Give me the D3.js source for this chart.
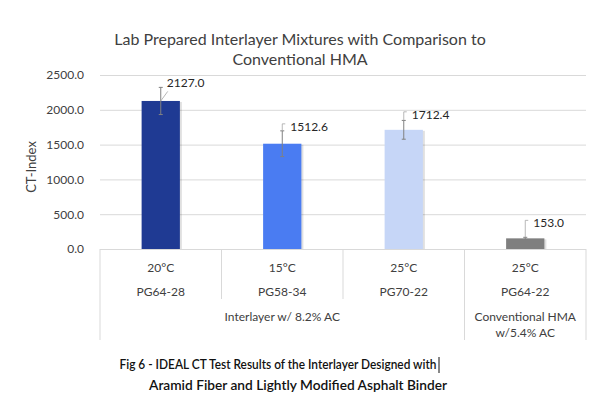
<!DOCTYPE html>
<html>
<head>
    <meta charset="utf-8">
    <title>IDEAL CT interlayer</title>
    <script src="https://d3js.org/d3.v7.min.js"></script>
    <style>
        body { margin: 0; background: #fff; }
        text { font-family: Lato, "Open Sans", sans-serif; }
    </style>
</head>
<body>
    <svg id="chart" width="613" height="413"></svg>

    <script>
    // data
    var temps    = ["20°C", "15°C", "25°C", "25°C"];
    var binders  = ["PG64-28", "PG58-34", "PG70-22", "PG64-22"];
    var ctIndex  = [2127.0, 1512.6, 1712.4, 153.0];
    var ctError  = [195, 185, 135, 15];
    var barColors = ["#1f3a93", "#4a7cf2", "#c6d6f7", "#7f7f7f"];
    var yTicks   = [0, 500, 1000, 1500, 2000, 2500];

    var plotL = 100, plotR = 586, plotT = 75, plotB = 249;

    var svg = d3.select('#chart');
    var ids = d3.range(ctIndex.length);

    var xScale = d3.scaleBand()
        .domain(ids)
        .range([plotL, plotR])
        .padding(0);

    var yScale = d3.scaleLinear()
        .domain([0, 2500])
        .range([plotB, plotT]);

    var barW = xScale.bandwidth() * 0.315;
    function cx(i) { return xScale(i) + xScale.bandwidth() / 2; }

    // title
    svg.append('text')
        .attr('x', 300).attr('y', 45)
        .attr('text-anchor', 'middle')
        .attr('font-size', 16).attr('fill', '#404040')
        .text('Lab Prepared Interlayer Mixtures with Comparison to');
    svg.append('text')
        .attr('x', 300).attr('y', 65)
        .attr('text-anchor', 'middle')
        .attr('font-size', 16).attr('fill', '#404040')
        .text('Conventional HMA');

    // grid + y axis labels
    var yAxis = d3.axisLeft(yScale)
        .tickValues(yTicks)
        .tickFormat(d3.format('.1f'))
        .tickSize(-(plotR - plotL))
        .tickPadding(16);

    var ga = svg.append('g')
        .attr('transform', `translate(${plotL}, 0)`)
        .call(yAxis);
    ga.select('.domain').remove();
    ga.selectAll('.tick line').attr('stroke', '#d9d9d9');
    ga.selectAll('.tick text')
        .attr('font-size', 12).attr('fill', '#404040')
        .style('font-family', 'Lato, sans-serif');

    svg.append('text')
        .attr('transform', `translate(36, ${(plotT + plotB) / 2 + 5}) rotate(-90)`)
        .attr('text-anchor', 'middle')
        .attr('font-size', 13).attr('fill', '#404040')
        .text('CT-Index');

    // category separators
    var sep = svg.append('g').attr('stroke', '#d9d9d9');
    [0, 3, 4].forEach(function (i) {
        var x = i < 4 ? xScale(i) : plotR;
        sep.append('line').attr('x1', x).attr('x2', x).attr('y1', plotB).attr('y2', 340);
    });
    [1, 2].forEach(function (i) {
        sep.append('line').attr('x1', xScale(i)).attr('x2', xScale(i)).attr('y1', plotB).attr('y2', 299);
    });

    // bars with a soft shadow
    svg.append('g').selectAll('rect')
        .data(ids).enter()
        .append('rect')
        .attr('x', function (i) { return cx(i) - barW / 2 + 2; })
        .attr('y', function (i) { return yScale(ctIndex[i]) + 1; })
        .attr('width', barW)
        .attr('height', function (i) { return plotB - yScale(ctIndex[i]) - 1; })
        .attr('fill', '#000').attr('opacity', 0.12);

    svg.append('g').selectAll('rect')
        .data(ids).enter()
        .append('rect')
        .attr('x', function (i) { return cx(i) - barW / 2; })
        .attr('y', function (i) { return yScale(ctIndex[i]); })
        .attr('width', barW)
        .attr('height', function (i) { return plotB - yScale(ctIndex[i]); })
        .attr('fill', function (i) { return barColors[i]; });

    // error bars
    var eb = svg.append('g').attr('stroke', '#808080').attr('stroke-width', 1);
    ids.forEach(function (i) {
        var hi = yScale(ctIndex[i] + ctError[i]), lo = yScale(ctIndex[i] - ctError[i]);
        eb.append('line').attr('x1', cx(i)).attr('x2', cx(i)).attr('y1', hi).attr('y2', lo);
        eb.append('line').attr('x1', cx(i) - 2).attr('x2', cx(i) + 2).attr('y1', hi).attr('y2', hi);
        eb.append('line').attr('x1', cx(i) - 2).attr('x2', cx(i) + 2).attr('y1', lo).attr('y2', lo);
    });

    // value labels with leader lines
    var lab = svg.append('g');
    ids.forEach(function (i) {
        var topY = yScale(ctIndex[i]);
        var errTop = yScale(ctIndex[i] + ctError[i]);
        var ly = Math.min(errTop, topY - 11);
        var lx = cx(i) + (i == 0 ? 6 : 8);
        var path = i == 0
            ? `M${cx(i)},${topY} L${lx + 1},${ly + 4}`
            : `M${cx(i)},${errTop} V${ly - 7} H${cx(i) + 3}`;
        lab.append('path').attr('d', path)
            .attr('fill', 'none').attr('stroke', '#a6a6a6').attr('stroke-width', 0.8);
        lab.append('text')
            .attr('x', lx).attr('y', ly)
            .attr('font-size', 12).attr('fill', '#262626')
            .text(d3.format('.1f')(ctIndex[i]));
    });

    // category labels
    var cat = svg.append('g')
        .attr('text-anchor', 'middle')
        .attr('font-size', 12).attr('fill', '#404040');
    ids.forEach(function (i) {
        cat.append('text').attr('x', cx(i)).attr('y', 272).text(temps[i]);
        cat.append('text').attr('x', cx(i)).attr('y', 296).text(binders[i]);
    });
    cat.append('text')
        .attr('x', (xScale(0) + xScale(3)) / 2).attr('y', 321)
        .text('Interlayer w/ 8.2% AC');
    cat.append('text').attr('x', cx(3)).attr('y', 321).text('Conventional HMA');
    cat.append('text').attr('x', cx(3)).attr('y', 337).text('w/5.4% AC');

    // figure caption
    var cap = svg.append('g')
        .attr('text-anchor', 'middle')
        .attr('font-size', 13).attr('font-weight', 600).attr('fill', '#111');
    cap.append('text').attr('x', 278).attr('y', 369)
        .attr('textLength', 317).attr('lengthAdjust', 'spacingAndGlyphs')
        .text('Fig 6 - IDEAL CT Test Results of the Interlayer Designed with');
    cap.append('text').attr('x', 298).attr('y', 390)
        .attr('textLength', 298).attr('lengthAdjust', 'spacingAndGlyphs')
        .text('Aramid Fiber and Lightly Modified Asphalt Binder');
    svg.append('line')
        .attr('x1', 439).attr('x2', 439).attr('y1', 357).attr('y2', 373)
        .attr('stroke', '#111');
    </script>
</body>
</html>
